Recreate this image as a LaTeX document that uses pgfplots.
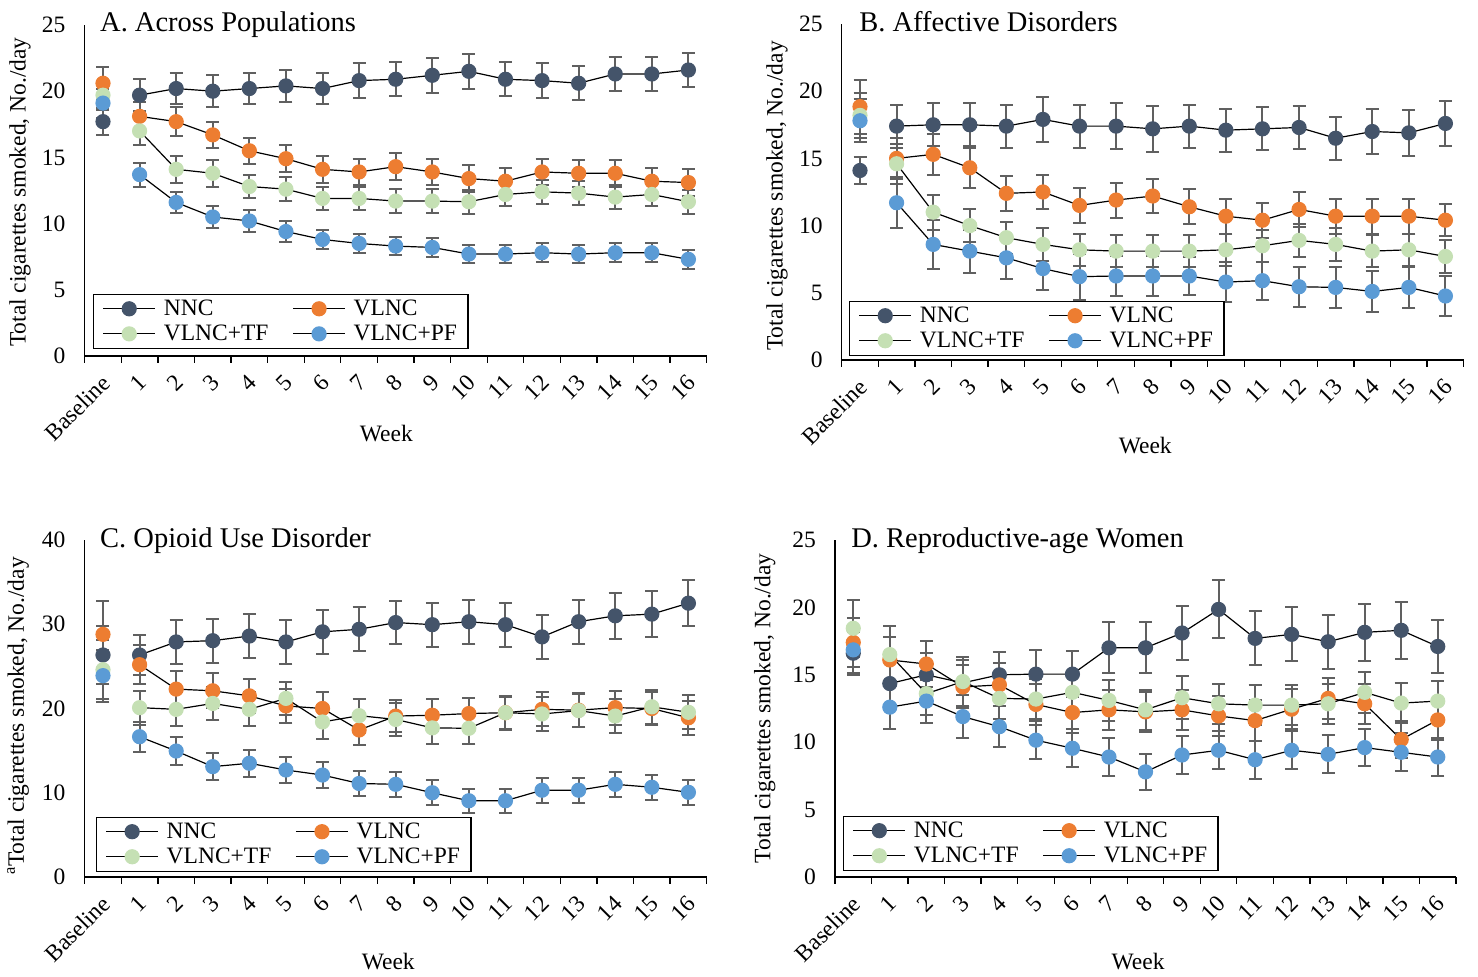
\documentclass[border=0pt]{standalone}
\usepackage{fontspec}
\setmainfont{Liberation Serif}
\usepackage{pgfplots}
\usepackage{pgfplotstable}
\pgfplotsset{compat=1.18}
\definecolor{cN}{RGB}{68,84,106}
\definecolor{cV}{RGB}{237,125,49}
\definecolor{cT}{RGB}{197,224,180}
\definecolor{cP}{RGB}{91,155,213}
\definecolor{cE}{RGB}{96,96,96}

\pgfplotstableread{
w nnc nnce vlnc vlnce tf tfe pf pfe
0 17.7 1.0 20.6 1.2 19.7 1.1 19.1 1.1
1 19.7 1.2 18.1 1.1 17.0 1.1 13.7 0.9
2 20.2 1.2 17.7 1.1 14.1 1.0 11.6 0.8
3 20.0 1.2 16.7 1.0 13.8 1.0 10.5 0.8
4 20.2 1.2 15.5 1.0 12.8 0.9 10.2 0.8
5 20.4 1.2 14.9 1.0 12.6 0.9 9.4 0.8
6 20.2 1.2 14.1 1.0 11.9 0.9 8.8 0.7
7 20.8 1.3 13.9 1.0 11.9 0.9 8.5 0.7
8 20.9 1.3 14.3 1.0 11.7 0.9 8.3 0.7
9 21.2 1.3 13.9 1.0 11.7 0.9 8.2 0.7
10 21.5 1.3 13.4 1.0 11.65 0.9 7.7 0.7
11 20.9 1.3 13.2 1.0 12.2 0.9 7.7 0.7
12 20.8 1.3 13.9 1.0 12.4 0.9 7.8 0.7
13 20.6 1.3 13.8 1.0 12.3 0.9 7.7 0.7
14 21.3 1.3 13.8 1.0 12.0 0.9 7.8 0.7
15 21.3 1.3 13.2 1.0 12.2 0.9 7.8 0.7
16 21.6 1.3 13.1 1.0 11.65 0.9 7.3 0.7
}\tabA

\pgfplotstableread{
w nnc nnce vlnc vlnce tf tfe pf pfe
0 14.1 1.0 18.85 2.0 18.2 1.7 17.8 1.6
1 17.4 1.6 15.0 1.5 14.6 1.5 11.7 1.9
2 17.5 1.6 15.3 1.5 11.0 1.3 8.6 1.8
3 17.5 1.6 14.3 1.5 10.0 1.2 8.1 1.6
4 17.4 1.6 12.4 1.3 9.1 1.2 7.6 1.6
5 17.9 1.7 12.5 1.3 8.6 1.2 6.8 1.6
6 17.4 1.6 11.5 1.3 8.2 1.2 6.2 1.7
7 17.4 1.7 11.9 1.3 8.1 1.2 6.25 1.5
8 17.2 1.7 12.2 1.3 8.1 1.2 6.25 1.5
9 17.4 1.6 11.4 1.3 8.1 1.2 6.25 1.4
10 17.1 1.6 10.7 1.3 8.2 1.2 5.8 1.5
11 17.2 1.6 10.4 1.3 8.5 1.2 5.9 1.4
12 17.3 1.6 11.2 1.3 8.9 1.2 5.45 1.5
13 16.5 1.6 10.7 1.3 8.6 1.2 5.4 1.5
14 17.0 1.7 10.7 1.3 8.1 1.2 5.1 1.5
15 16.9 1.7 10.7 1.3 8.2 1.2 5.4 1.5
16 17.6 1.7 10.4 1.2 7.7 1.2 4.76 1.5
}\tabB

\pgfplotstableread{
w nnc nnce vlnc vlnce tf tfe pf pfe
0 26.35 3.5 28.8 4.0 24.6 3.5 23.9 3.1
1 26.35 2.4 25.2 2.3 20.1 2.0 16.65 1.8
2 27.9 2.6 22.3 2.2 19.9 2.0 14.95 1.7
3 28.05 2.6 22.1 2.1 20.6 2.0 13.1 1.6
4 28.6 2.6 21.5 2.0 19.9 2.0 13.5 1.6
5 27.9 2.6 20.3 2.0 21.2 2.0 12.7 1.6
6 29.1 2.6 20.0 2.0 18.4 2.0 12.1 1.5
7 29.4 2.6 17.45 1.8 19.15 2.0 11.1 1.5
8 30.2 2.6 19.1 1.9 18.7 2.0 11.0 1.5
9 29.95 2.6 19.2 1.9 17.7 1.9 10.0 1.5
10 30.3 2.6 19.4 1.9 17.65 1.9 9.05 1.4
11 29.95 2.6 19.5 1.9 19.5 2.0 9.05 1.4
12 28.5 2.6 19.9 2.0 19.35 2.0 10.3 1.5
13 30.3 2.6 19.8 2.0 19.75 2.0 10.3 1.5
14 31.0 2.7 20.1 2.0 19.1 2.0 11.0 1.5
15 31.2 2.7 20.0 2.0 20.2 2.0 10.65 1.5
16 32.5 2.7 18.9 2.0 19.55 2.0 10.05 1.5
}\tabC

\pgfplotstableread{
w nnc nnce vlnc vlnce tf tfe pf pfe
0 16.6 1.6 17.4 1.8 18.45 2.1 16.85 1.7
1 14.35 1.6 16.1 1.7 16.5 2.1 12.6 1.65
2 15.0 1.6 15.8 1.7 13.6 1.6 13.05 1.6
3 14.4 1.7 14.1 1.6 14.5 1.8 11.9 1.6
4 15.0 1.7 14.25 1.6 13.25 1.5 11.15 1.5
5 15.05 1.8 12.8 1.5 13.2 1.5 10.15 1.4
6 15.05 1.7 12.2 1.5 13.7 1.5 9.55 1.4
7 17.0 1.9 12.4 1.5 13.1 1.5 8.9 1.4
8 17.0 1.9 12.25 1.5 12.4 1.5 7.8 1.35
9 18.1 2.0 12.4 1.5 13.3 1.6 9.05 1.4
10 19.85 2.15 11.95 1.5 12.85 1.5 9.4 1.4
11 17.7 2.0 11.6 1.5 12.75 1.5 8.7 1.4
12 18.0 2.0 12.45 1.5 12.75 1.5 9.4 1.4
13 17.45 2.0 13.25 1.5 12.85 1.5 9.1 1.4
14 18.15 2.1 12.85 1.5 13.7 1.5 9.6 1.4
15 18.3 2.1 10.2 1.4 12.9 1.5 9.25 1.4
16 17.1 2.0 11.65 1.5 13.05 1.5 8.9 1.4
}\tabD

\newcommand{\fs}{\fontsize{23.5}{27}\selectfont}
\pgfplotsset{
  panel/.style={
    scale only axis, width=622pt,
    xmin=-0.5, xmax=16.5, ymin=0,
    axis x line*=bottom, axis y line*=left,
    axis line style={black, line width=1.3pt},
    xtick={0,...,16},
    xticklabels={Baseline,1,2,3,4,5,6,7,8,9,10,11,12,13,14,15,16},
    minor xtick={-0.5,0.5,...,16.5},
    major tick length=0pt, minor tick length=7pt, tick align=outside,
    every minor tick/.append style={black, line width=1.3pt},
    tick label style={font=\fs},
    label style={font=\fs},
    xticklabel style={inner sep=0pt, xshift=3pt, yshift=-23pt, rotate=45, anchor=east},
    yticklabel style={inner sep=0pt, anchor=east, xshift=-19pt},
    /pgf/number format/assume math mode=true,
    clip=false,
    title style={font=\fontsize{28.5}{32}\selectfont, anchor=west, inner sep=0pt},
    legend columns=2,
    legend style={anchor=south west, draw=black, line width=1.3pt, font=\fs,
      inner xsep=9pt, inner ysep=4pt, row sep=4pt,
      /tikz/every odd column/.append style={column sep=6pt},
      /tikz/every even column/.append style={column sep=22pt},
      cells={anchor=west}},
    legend image code/.code={\draw[mark repeat=2,mark phase=2] plot coordinates {(0pt,0pt) (26pt,0pt) (52pt,0pt)};},
    xlabel={Week},
    ylabel={Total cigarettes smoked, No./day},
  },
  ser/.style={black, line width=1.2pt, mark=*, mark size=7pt,
    error bars/y dir=both, error bars/y explicit,
    error bars/error bar style={color=cE, line width=2pt},
    error bars/error mark options={rotate=90, mark size=6.5pt, line width=2pt, color=cE}},
}
\newcommand{\series}[3]{%
  \addplot[ser, mark options={fill=#3, draw=#3}] table[x=w, y=#2, y error=#2e, restrict x to domain=0.5:16.5] {#1};
}
\newcommand{\base}[3]{%
  \addplot[ser, only marks, forget plot, mark options={fill=#3, draw=#3}] table[x=w, y=#2, y error=#2e, restrict x to domain=-0.4:0.4] {#1};
}
\newcommand{\allseries}[1]{%
  \series{#1}{nnc}{cN}
  \series{#1}{vlnc}{cV}
  \series{#1}{tf}{cT}
  \series{#1}{pf}{cP}
  \base{#1}{nnc}{cN}
  \base{#1}{vlnc}{cV}
  \base{#1}{tf}{cT}
  \base{#1}{pf}{cP}
}

\begin{document}
\begin{tikzpicture}
\useasboundingbox (0,0) rectangle (1478pt,977pt);

% Panel A
\begin{axis}[panel, at={(84.7pt,621pt)}, anchor=south west, height=331pt,
  ymax=25, ytick={0,5,...,25},
  title={A. Across Populations}, title style={at={(axis description cs:0.0246,0.982)}},
  xlabel style={at={(axis description cs:0.485,-0.233)}, anchor=center},
  ylabel style={at={(axis description cs:-0.104,0.495)}, anchor=center},
  legend style={at={(axis description cs:0.0133,0.021)}},
  legend entries={NNC,VLNC,VLNC+TF,VLNC+PF}]
\allseries{\tabA}
\end{axis}

% Panel B
\begin{axis}[panel, at={(841.7pt,617pt)}, anchor=south west, height=336pt,
  ymax=25, ytick={0,5,...,25},
  title={B. Affective Disorders}, title style={at={(axis description cs:0.028,0.988)}},
  xlabel style={at={(axis description cs:0.488,-0.256)}, anchor=center},
  ylabel style={at={(axis description cs:-0.104,0.488)}, anchor=center},
  legend style={at={(axis description cs:0.0117,0.012)}},
  legend entries={NNC,VLNC,VLNC+TF,VLNC+PF}]
\allseries{\tabB}
\end{axis}

% Panel C
\begin{axis}[panel, at={(84.7pt,100pt)}, anchor=south west, height=337pt,
  ymax=40, ytick={0,10,...,40},
  title={C. Opioid Use Disorder}, title style={at={(axis description cs:0.0246,0.979)}},
  ylabel={\textsuperscript{a}Total cigarettes smoked, No./day},
  xlabel style={at={(axis description cs:0.488,-0.252)}, anchor=center},
  ylabel style={at={(axis description cs:-0.107,0.478)}, anchor=center},
  legend style={at={(axis description cs:0.018,0.015)}},
  legend entries={NNC,VLNC,VLNC+TF,VLNC+PF}]
\allseries{\tabC}
\end{axis}

% Panel D
\begin{axis}[panel, at={(835pt,100pt)}, anchor=south west, height=337pt, width=621pt,
  ymax=25, ytick={0,5,...,25},
  title={D. Reproductive-age Women}, title style={at={(axis description cs:0.026,0.979)}},
  xlabel style={at={(axis description cs:0.488,-0.252)}, anchor=center},
  ylabel style={at={(axis description cs:-0.113,0.50)}, anchor=center},
  legend style={at={(axis description cs:0.013,0.018)}},
  legend entries={NNC,VLNC,VLNC+TF,VLNC+PF}]
\allseries{\tabD}
\end{axis}
\end{tikzpicture}
\end{document}
